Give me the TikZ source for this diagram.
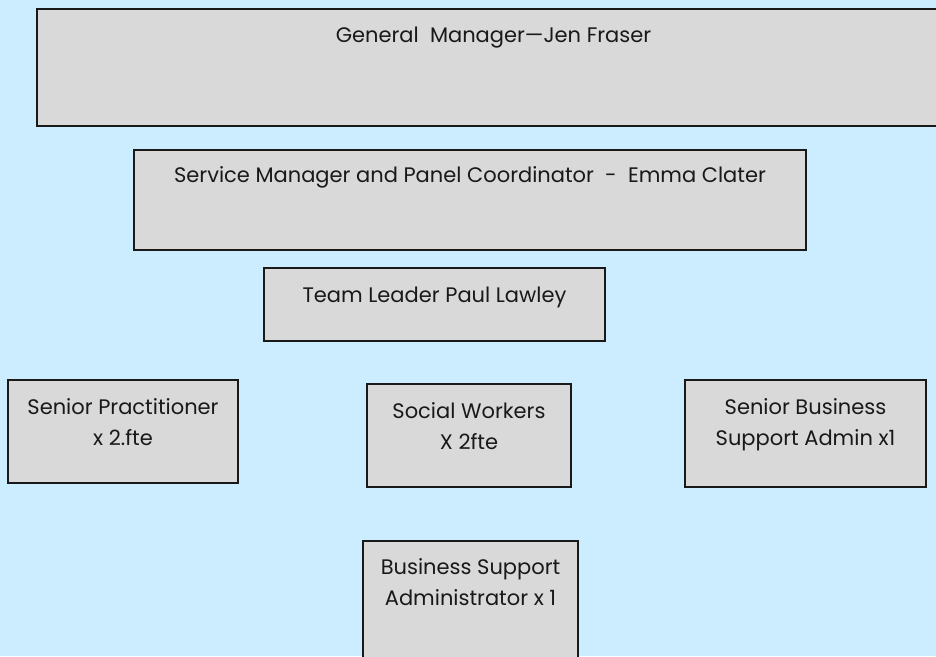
\documentclass[tikz,border=0pt]{standalone}
\usepackage{fontspec}
\setmainfont{Poppins}
\usetikzlibrary{positioning}

\definecolor{chartbg}{HTML}{CCECFF}
\definecolor{boxgray}{HTML}{D9D9D9}

\tikzset{
  orgbox/.style={draw=black!90, line width=1.6pt, fill=boxgray, inner sep=0pt},
  orgtext/.style={inner sep=0pt, align=center, text=black!90,
    font=\fontsize{21}{31}\selectfont},
}

\begin{document}
\begin{tikzpicture}[x=1pt, y=-1pt]
    % Canvas
    \useasboundingbox (0,0) rectangle (936,656);
    \fill[chartbg] (0,0) rectangle (936,656);
    \clip (0,0) rectangle (936,656);

    % Management
    \node[orgbox, minimum width=913pt, minimum height=117pt] (gm) at (493.5,67.5) {};
    \node[orgtext, below=19pt of gm.north] (gmtext) {General\ \ Manager---Jen Fraser};

    \node[orgbox, minimum width=672pt, minimum height=100pt] (sm) at (470,200) {};
    \node[orgtext, below=17pt of sm.north] (smtext) {Service Manager and Panel Coordinator\ \ -\ \ Emma Clater};

    \node[orgbox, minimum width=341pt, minimum height=73pt] (tl) at (434.5,304.5) {};
    \node[orgtext, below=20pt of tl.north] (tltext) {Team Leader Paul Lawley};

    % Team
    \node[orgbox, minimum width=230pt, minimum height=103pt] (sp) at (123,431.5) {};
    \node[orgtext, below=19pt of sp.north] (sptext) {Senior Practitioner\\x 2.fte};

    \node[orgbox, minimum width=204pt, minimum height=103pt] (sw) at (469,435.5) {};
    \node[orgtext, below=19pt of sw.north] (swtext) {Social Workers\\X 2fte};

    \node[orgbox, minimum width=241pt, minimum height=107pt] (sb) at (805.5,433.5) {};
    \node[orgtext, below=19pt of sb.north] (sbtext) {Senior Business\\Support Admin x1};

    % Admin
    \node[orgbox, minimum width=215pt, minimum height=139pt] (bs) at (470.5,610.5) {};
    \node[orgtext, below=18pt of bs.north] (bstext) {Business Support\\Administrator x 1};

\end{tikzpicture}
\end{document}
